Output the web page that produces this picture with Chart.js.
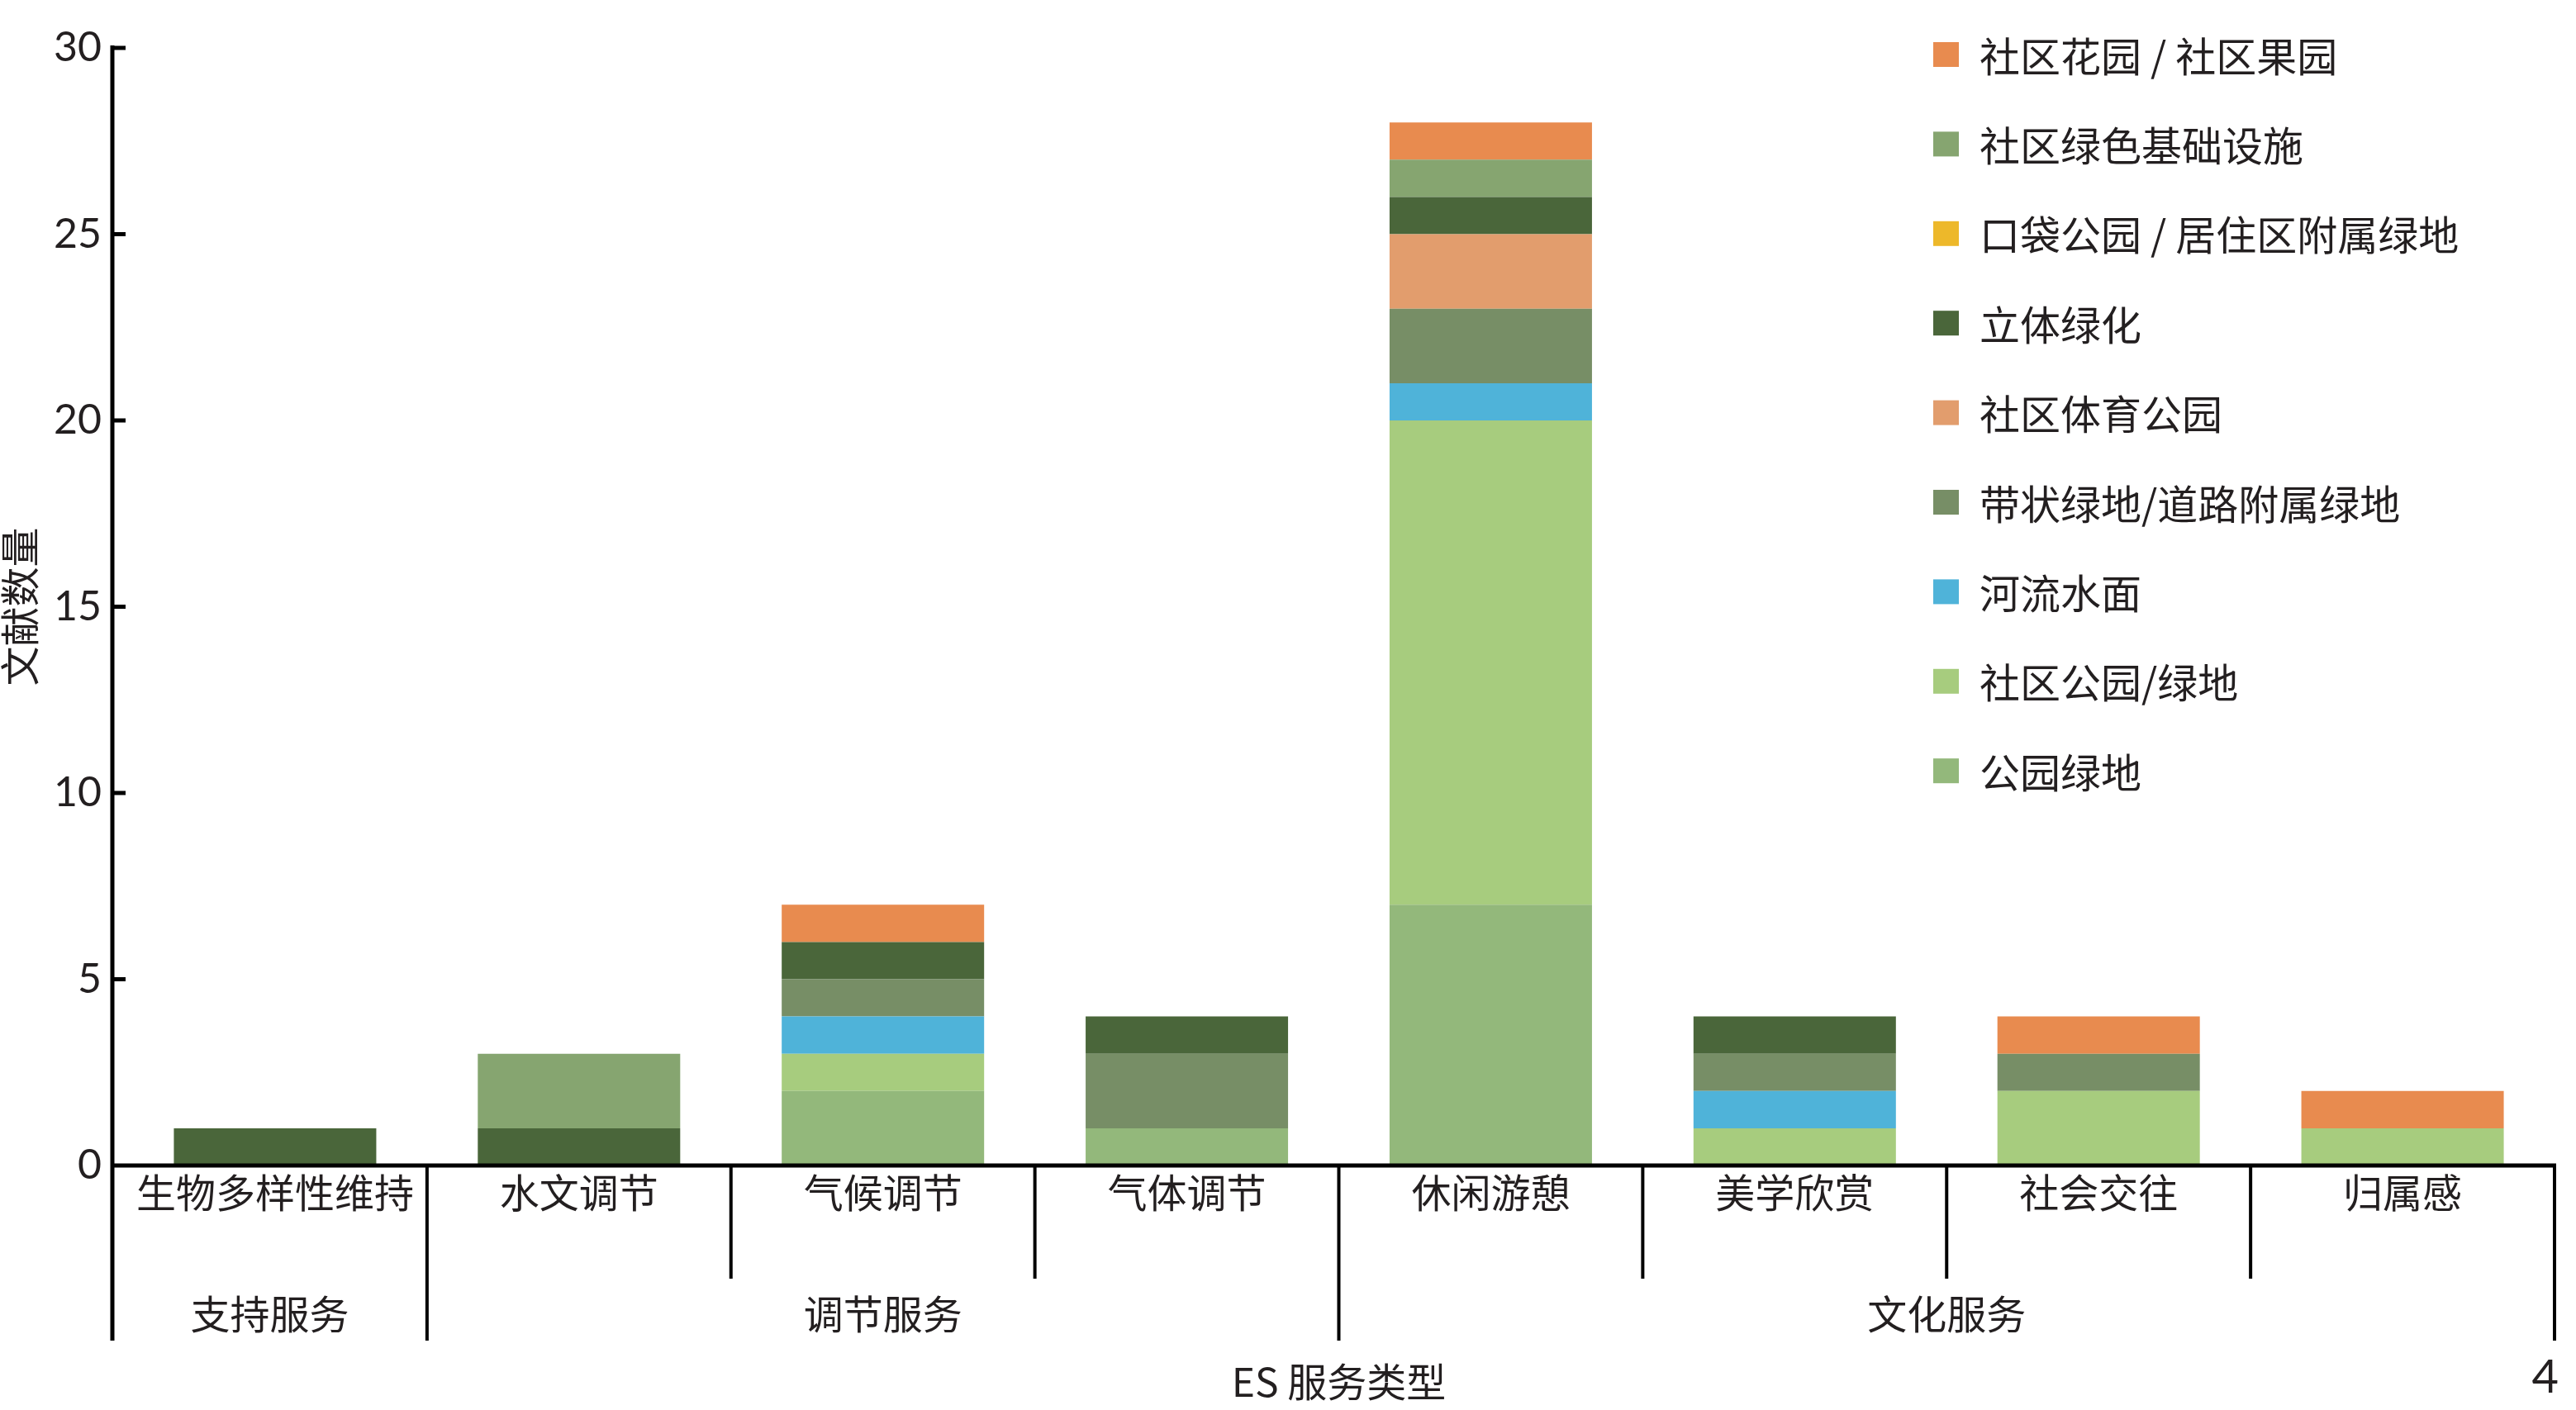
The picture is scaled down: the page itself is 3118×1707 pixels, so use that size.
<!DOCTYPE html>
<html>
<head>
<meta charset="utf-8">
<script src="https://cdn.jsdelivr.net/npm/chart.js@4.4.0/dist/chart.umd.min.js"></script>
<style>
html, body { margin: 0; padding: 0; background: #fff; }
canvas { display: block; }
</style>
</head>
<body>
<canvas id="chart-area" width="3118" height="1707"></canvas>
<script>
var categories = ['生物多样性维持', '水文调节', '气候调节', '气体调节', '休闲游憩', '美学欣赏', '社会交往', '归属感'];
// group name, first category, last category
var groups = [['支持服务', 0, 0], ['调节服务', 1, 3], ['文化服务', 4, 7]];
var yTicks = [0, 5, 10, 15, 20, 25, 30];

// series, stacked from the bottom up
var parkGreen       = [0, 0, 2, 1, 7, 0, 0, 0];   // 公园绿地
var communityPark   = [0, 0, 1, 0, 13, 1, 2, 1];  // 社区公园/绿地
var river           = [0, 0, 1, 0, 1, 1, 0, 0];   // 河流水面
var stripGreen      = [0, 0, 1, 2, 2, 1, 1, 0];   // 带状绿地/道路附属绿地
var sportsPark      = [0, 0, 0, 0, 2, 0, 0, 0];   // 社区体育公园
var verticalGreen   = [1, 1, 1, 1, 1, 1, 0, 0];   // 立体绿化
var pocketPark      = [0, 0, 0, 0, 0, 0, 0, 0];   // 口袋公园 / 居住区附属绿地
var greenInfra      = [0, 2, 0, 0, 1, 0, 0, 0];   // 社区绿色基础设施
var communityGarden = [0, 0, 1, 0, 1, 0, 1, 1];   // 社区花园 / 社区果园

var TEXT = '#231f20';
var CJK = '"Noto Sans CJK SC", "Noto Sans", sans-serif';
var NUM = 'Lato, "Noto Sans", sans-serif';

function ds(label, data, color) {
    return {
        label: label,
        data: data,
        backgroundColor: color,
        borderWidth: 0,
        barPercentage: 0.666,
        categoryPercentage: 1.0
    };
}

// axes, dividers, group labels, legend
var decor = {
    id: 'decor',
    afterDraw: function(chart) {
        var ctx = chart.ctx, a = chart.chartArea;
        var xs = chart.scales.x, ys = chart.scales.y;
        var axisX = a.left - 13;
        var shortEnd = a.bottom + 137, longEnd = a.bottom + 212;

        function edge(i) {
            if (i <= 0) return axisX;
            if (i >= categories.length) return a.right;
            return (xs.getPixelForValue(i - 1) + xs.getPixelForValue(i)) / 2;
        }

        ctx.save();
        ctx.strokeStyle = '#000';
        ctx.lineWidth = 5;
        ctx.beginPath();
        ctx.moveTo(axisX, a.top - 3);
        ctx.lineTo(axisX, longEnd);
        yTicks.forEach(function(t) {
            var py = ys.getPixelForValue(t);
            ctx.moveTo(axisX, py);
            ctx.lineTo(axisX + 16, py);
        });
        ctx.moveTo(axisX, a.bottom);
        ctx.lineTo(a.right + 2, a.bottom);
        ctx.stroke();

        ctx.lineWidth = 4;
        ctx.beginPath();
        for (var i = 1; i <= categories.length; i++) {
            var isGroupEdge = (i === categories.length) || groups.some(function(g) { return g[1] === i; });
            var bx = edge(i);
            ctx.moveTo(bx, a.bottom);
            ctx.lineTo(bx, isGroupEdge ? longEnd : shortEnd);
        }
        ctx.stroke();

        ctx.fillStyle = TEXT;
        ctx.font = '48px ' + CJK;
        ctx.textAlign = 'center';
        ctx.textBaseline = 'middle';
        groups.forEach(function(g) {
            ctx.fillText(g[0], (edge(g[1]) + edge(g[2] + 1)) / 2, a.bottom + 180);
        });

        // legend, top entry = top of the stack
        var items = chart.data.datasets.slice().reverse();
        ctx.textAlign = 'left';
        ctx.font = '49px ' + CJK;
        items.forEach(function(d, k) {
            var cy = 66 + k * 108.4;
            ctx.fillStyle = d.backgroundColor;
            ctx.fillRect(2340, cy - 15, 31, 30);
            ctx.fillStyle = TEXT;
            ctx.fillText(d.label, 2396, cy + 2);
        });

        // page number
        ctx.font = '56px ' + NUM;
        ctx.textAlign = 'right';
        ctx.fillText('4', 3097, 1668);
        ctx.restore();
    }
};

var config = {
    type: 'bar',
    data: {
        labels: categories,
        datasets: [
            ds('公园绿地', parkGreen, '#93b87b'),
            ds('社区公园/绿地', communityPark, '#a7cc7e'),
            ds('河流水面', river, '#4fb3d9'),
            ds('带状绿地/道路附属绿地', stripGreen, '#778e66'),
            ds('社区体育公园', sportsPark, '#e29d6d'),
            ds('立体绿化', verticalGreen, '#4a663a'),
            ds('口袋公园 / 居住区附属绿地', pocketPark, '#edb82a'),
            ds('社区绿色基础设施', greenInfra, '#86a570'),
            ds('社区花园 / 社区果园', communityGarden, '#e88b4f')
        ]
    },
    options: {
        responsive: false,
        animation: false,
        layout: { padding: { left: 0, right: 26, top: 58, bottom: 0 } },
        plugins: {
            legend: { display: false },
            tooltip: { enabled: false }
        },
        scales: {
            x: {
                stacked: true,
                grid: { display: false, drawTicks: false },
                border: { display: false },
                ticks: {
                    font: { family: CJK, size: 48 },
                    color: TEXT,
                    padding: 4,
                    maxRotation: 0,
                    autoSkip: false
                },
                title: {
                    display: true,
                    text: 'ES 服务类型',
                    font: { family: CJK, size: 48, lineHeight: 1 },
                    color: TEXT,
                    padding: { top: 0, bottom: 10 }
                },
                afterFit: function(s) { s.height = 296; }
            },
            y: {
                stacked: true,
                min: 0,
                max: 30,
                grid: { display: false, drawTicks: false },
                border: { display: false },
                ticks: {
                    stepSize: 5,
                    font: { family: NUM, size: 50 },
                    color: TEXT,
                    padding: 26
                },
                title: {
                    display: true,
                    text: '文献数量',
                    font: { family: CJK, size: 48, lineHeight: 1 },
                    color: TEXT,
                    padding: 0
                },
                afterFit: function(s) { s.width = 149; }
            }
        }
    },
    plugins: [decor]
};

function show() {
    var ctx = document.getElementById('chart-area').getContext('2d');
    window.myBar = new Chart(ctx, config);
}

if (document.fonts && document.fonts.load) {
    Promise.all([
        document.fonts.load('48px "Noto Sans CJK SC"', '文献'),
        document.fonts.load('50px Lato', '30')
    ]).then(show, show);
} else {
    show();
}
</script>
</body>
</html>
